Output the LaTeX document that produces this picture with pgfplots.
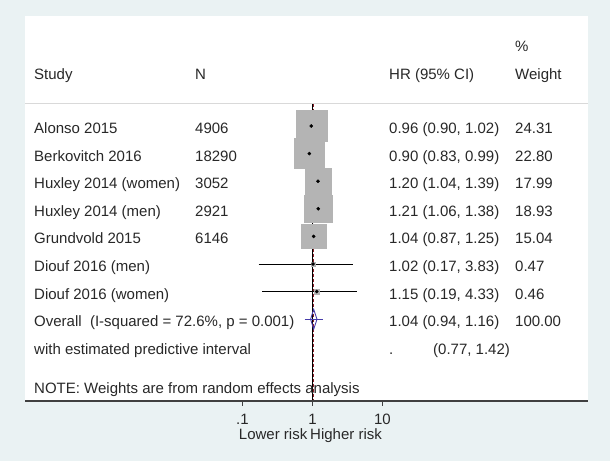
\documentclass[border=0pt]{standalone}
\usepackage{pgfplots}
\pgfplotsset{compat=1.18}
\usepackage{pgfplotstable}
\usepackage{fontspec}
\setmainfont{Liberation Sans}

\definecolor{stataback}{RGB}{234,242,243}
\definecolor{boxgray}{RGB}{180,180,180}
\definecolor{diamondblue}{RGB}{70,60,170}
\definecolor{refred}{RGB}{140,30,40}
\definecolor{txt}{RGB}{40,40,40}

% row = line from the top, HR with 95% CI, weight in %
\pgfplotstableread{
row hr   lo   hi   w
1   0.96 0.90 1.02 24.31
2   0.90 0.83 0.99 22.80
3   1.20 1.04 1.39 17.99
4   1.21 1.06 1.38 18.93
5   1.04 0.87 1.25 15.04
6   1.02 0.17 3.83 0.47
7   1.15 0.19 4.33 0.46
}\studies

\tikzset{cell/.style={anchor=base west, inner xsep=0pt}}
\newcommand\studyrow[5]{%
  \node[cell] at (34,#1) {#2};
  \node[cell] at (195,#1) {#3};
  \node[cell] at (389,#1) {#4};
  \node[cell] at (515,#1) {#5};
}

\begin{document}
\begin{tikzpicture}[font=\fontsize{15}{18}\selectfont,text=txt]
\fill[stataback] (0pt,0pt) rectangle (610pt,461pt);
\begin{axis}[
  at={(25pt,60pt)}, anchor=south west,
  scale only axis, width=563pt, height=385pt,
  xmode=log, xmin=7.81e-5, xmax=8630,
  y dir=reverse, ymin=-2.9855, ymax=10.9638,
  axis background/.style={fill=white},
  axis line style={draw=none},
  xtick={0.1,1,10}, xticklabels={.1,1,10},
  xminorticks=false,
  xtick pos=bottom, tick align=outside,
  major tick length=4.5pt, tick style={black!75, line width=0.8pt},
  ytick=\empty,
  xticklabel style={font=\fontsize{15}{18}\selectfont, text=txt, inner sep=0pt, yshift=-8pt},
  clip=false,
]
% line of no effect and overall estimate
\addplot[black, line width=0.7pt] coordinates {(1,0.185) (1,10.9638)};
\addplot[refred, line width=0.8pt, dash pattern=on 3pt off 2pt] coordinates {(1.04,0.185) (1.04,10.9638)};

% weight boxes
\addplot[scatter, only marks, mark=square*,
  scatter/use mapped color={draw=boxgray, fill=boxgray},
  visualization depends on={15.5*sqrt(\thisrow{w}/24.31) \as \half},
  scatter/@pre marker code/.append style={/tikz/mark size=\half}]
  table[x=hr, y=row] {\studies};

% confidence intervals
\addplot[black, line width=0.8pt, unbounded coords=jump] coordinates {
  (0.90,1) (1.02,1) (nan,nan)
  (0.83,2) (0.99,2) (nan,nan)
  (1.04,3) (1.39,3) (nan,nan)
  (1.06,4) (1.38,4) (nan,nan)
  (0.87,5) (1.25,5) (nan,nan)
  (0.17,6) (3.83,6) (nan,nan)
  (0.19,7) (4.33,7)
};
\addplot[only marks, mark=*, mark size=1.6pt, black] table[x=hr, y=row] {\studies};

% overall diamond and predictive interval
\addplot[diamondblue, line width=0.9pt] coordinates {(0.77,8) (1.42,8)};
\addplot[diamondblue, line width=0.9pt] coordinates {(0.94,8) (1.04,7.64) (1.16,8) (1.04,8.36)} -- cycle;
\end{axis}

\begin{scope}[shift={(0pt,461pt)}, x=1pt, y=-1pt]
\draw[black!15, line width=1pt] (25,103.5) -- (588,103.5);
\draw[black!75, line width=1.3pt] (25,401) -- (588,401);

\node[cell] at (515,51.5) {\%};
\studyrow{79.5}{Study}{N}{HR (95\% CI)}{Weight}
\studyrow{133.5}{Alonso 2015}{4906}{0.96 (0.90, 1.02)}{24.31}
\studyrow{161.1}{Berkovitch 2016}{18290}{0.90 (0.83, 0.99)}{22.80}
\studyrow{188.7}{Huxley 2014 (women)}{3052}{1.20 (1.04, 1.39)}{17.99}
\studyrow{216.3}{Huxley 2014 (men)}{2921}{1.21 (1.06, 1.38)}{18.93}
\studyrow{243.9}{Grundvold 2015}{6146}{1.04 (0.87, 1.25)}{15.04}
\studyrow{271.5}{Diouf 2016 (men)}{}{1.02 (0.17, 3.83)}{0.47}
\studyrow{299.1}{Diouf 2016 (women)}{}{1.15 (0.19, 4.33)}{0.46}
\studyrow{326.7}{Overall \ (I-squared = 72.6\%, p = 0.001)}{}{1.04 (0.94, 1.16)}{100.00}
\node[cell] at (34,354.3) {with estimated predictive interval};
\node[cell] at (389,354.3) {.};
\node[cell] at (433,354.3) {(0.77, 1.42)};
\node[cell] at (34,393) {NOTE: Weights are from random effects analysis};
\node[anchor=base east, inner sep=0pt] at (307.5,439.5) {Lower risk};
\node[anchor=base west, inner sep=0pt] at (310,439.5) {Higher risk};
\end{scope}
\end{tikzpicture}
\end{document}
